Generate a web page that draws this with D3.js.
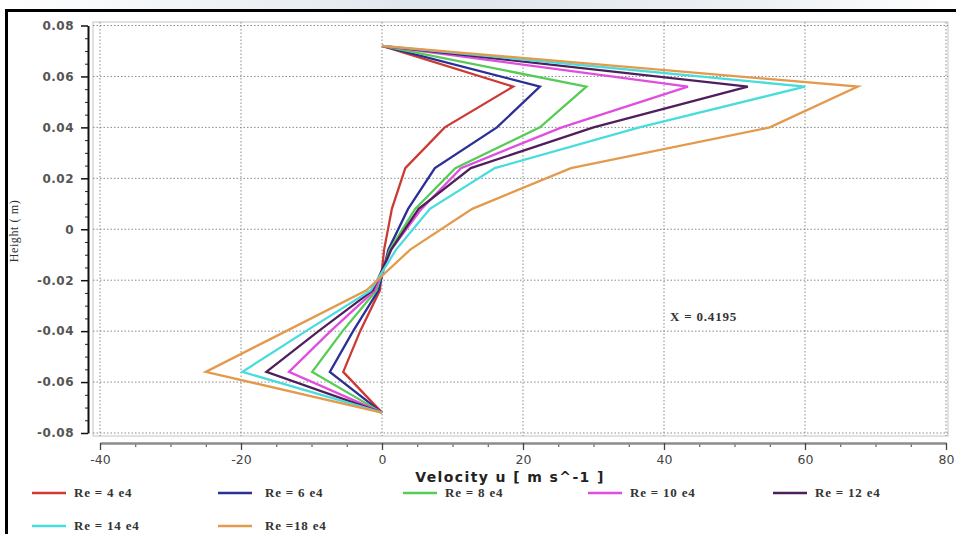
<!DOCTYPE html>
<html>
<head>
<meta charset="utf-8">
<script src="https://cdn.jsdelivr.net/npm/d3@7"></script>
<style>
  html, body { margin: 0; padding: 0; background: #fff; }
  svg { display: block; }
</style>
</head>
<body>
<div id="plot"></div>
<script>
// heights of the profile points (m)
const heights = [0.072, 0.056, 0.04, 0.024, 0.008, -0.008, -0.024, -0.04, -0.056, -0.072];

// velocity u at each height, one array per Reynolds number
const re4 = [0, 18.6, 8.9, 3.3, 1.4, 0.3, -0.3, -3.1, -5.5, 0];
const re6 = [0, 22.4, 16.3, 7.5, 3.7, 0.9, -0.5, -4.1, -7.4, 0];
const re8 = [0, 29.0, 22.4, 10.4, 4.7, 1.1, -0.8, -5.6, -9.9, 0];
const re10 = [0, 43.4, 25.5, 11.2, 5.6, 1.3, -1.0, -7.3, -13.2, 0];
const re12 = [0, 51.9, 30.0, 12.6, 5.2, 1.3, -1.3, -9.0, -16.4, 0];
const re14 = [0, 60.0, 36.5, 16.0, 6.8, 2.0, -1.6, -10.8, -19.8, 0];
const re18 = [0, 67.5, 55.0, 26.8, 12.8, 4.0, -2.2, -13.6, -25.0, 0];

const seriesNames = ['Re = 4 e4', 'Re = 6 e4', 'Re = 8 e4', 'Re = 10 e4', 'Re = 12 e4', 'Re = 14 e4', 'Re =18 e4'];
const seriesColors = ['#cc3a34', '#2b2f96', '#55cc55', '#e04ee0', '#4f1f5c', '#48dcdc', '#e39a4c'];
const seriesValues = [re4, re6, re8, re10, re12, re14, re18];

const xTicks = [-40, -20, 0, 20, 40, 60, 80];
const yTicks = [-0.08, -0.06, -0.04, -0.02, 0, 0.02, 0.04, 0.06, 0.08];

const W = 956, H = 534;

const svg = d3.select('#plot').append('svg')
    .attr('width', W)
    .attr('height', H);

// faint strip above the frame
const grad = svg.append('defs').append('linearGradient').attr('id', 'topg');
grad.append('stop').attr('offset', '0%').attr('stop-color', '#ffffff');
grad.append('stop').attr('offset', '45%').attr('stop-color', '#dfe6ec');
grad.append('stop').attr('offset', '80%').attr('stop-color', '#eef1f4');
grad.append('stop').attr('offset', '100%').attr('stop-color', '#ffffff');
svg.append('rect').attr('x', 0).attr('y', 0).attr('width', W).attr('height', 9).attr('fill', 'url(#topg)');

// black border, top and left only
svg.append('rect').attr('x', 5).attr('y', 9).attr('width', W - 5).attr('height', 3).attr('fill', '#000');
svg.append('rect').attr('x', 5).attr('y', 9).attr('width', 3).attr('height', H - 9).attr('fill', '#000');

const x = d3.scaleLinear().domain([-40, 80]).range([100, 946]);
const y = d3.scaleLinear().domain([-0.08, 0.08]).range([433, 25.5]);

// plot frame
svg.append('rect')
    .attr('x', 93).attr('y', 22)
    .attr('width', 855).attr('height', 414)
    .attr('fill', 'none')
    .attr('stroke', '#c4c4c4');

// dotted grid
svg.append('g').selectAll('line')
    .data(yTicks)
    .enter().append('line')
    .attr('x1', 93).attr('x2', 948)
    .attr('y1', d => y(d)).attr('y2', d => y(d))
    .attr('stroke', '#8a8a8a')
    .attr('stroke-dasharray', '1.5,2');

svg.append('g').selectAll('line')
    .data(xTicks)
    .enter().append('line')
    .attr('x1', d => x(d)).attr('x2', d => x(d))
    .attr('y1', 22).attr('y2', 436)
    .attr('stroke', '#8a8a8a')
    .attr('stroke-dasharray', '1.5,2');

// y axis
const yMinor = d3.range(-0.08, 0.0801, 0.005).filter(v => !yTicks.some(t => Math.abs(t - v) < 1e-6));
const yAxisMinor = svg.append('g')
    .attr('transform', 'translate(88,0)')
    .call(d3.axisLeft(y).tickValues(yMinor).tickSize(3).tickSizeOuter(0).tickFormat(''));
yAxisMinor.select('.domain').remove();
yAxisMinor.selectAll('line').attr('stroke', '#222');

const yAxis = svg.append('g')
    .attr('transform', 'translate(88,0)')
    .call(d3.axisLeft(y).tickValues(yTicks).tickSize(7).tickSizeOuter(0)
        .tickFormat(d => Math.abs(d) < 1e-9 ? '0' : d.toFixed(2)));
yAxis.select('.domain').attr('stroke', '#111').attr('stroke-width', 2);
yAxis.selectAll('line').attr('stroke', '#111').attr('stroke-width', 1.5);
yAxis.selectAll('text')
    .attr('x', -14)
    .attr('fill', '#555')
    .style('font-family', 'DejaVu Sans, sans-serif')
    .style('font-size', '12px')
    .style('font-weight', 'bold')
    .style('letter-spacing', '0.5px');

// x axis, set a little below the plot
const xMinor = d3.range(-40, 80.01, 5).filter(v => v % 20 !== 0);
const xAxisMinor = svg.append('g')
    .attr('transform', 'translate(0,443)')
    .call(d3.axisBottom(x).tickValues(xMinor).tickSize(4).tickSizeOuter(0).tickFormat(''));
xAxisMinor.select('.domain').remove();
xAxisMinor.selectAll('line').attr('stroke', '#444');

const xAxis = svg.append('g')
    .attr('transform', 'translate(0,443)')
    .call(d3.axisBottom(x).tickValues(xTicks).tickSize(7).tickSizeOuter(0).tickFormat(d => String(d)));
xAxis.select('.domain').attr('stroke', '#8c8c8c').attr('stroke-width', 2.5);
xAxis.selectAll('line').attr('stroke', '#444').attr('stroke-width', 1.3);
xAxis.selectAll('text')
    .attr('y', 12)
    .attr('fill', '#444')
    .style('font-family', 'DejaVu Sans, sans-serif')
    .style('font-size', '12.5px');

// axis titles
svg.append('text')
    .attr('x', 510).attr('y', 482)
    .attr('text-anchor', 'middle')
    .attr('fill', '#222')
    .style('font-family', 'DejaVu Sans, sans-serif')
    .style('font-size', '14px')
    .style('font-weight', 'bold')
    .style('letter-spacing', '1.4px')
    .text('Velocity u [ m s^-1 ]');

svg.append('text')
    .attr('transform', 'translate(18,231) rotate(-90)')
    .attr('text-anchor', 'middle')
    .attr('fill', '#333')
    .style('font-family', 'Liberation Serif, serif')
    .style('font-size', '12px')
    .style('letter-spacing', '0.6px')
    .text('Height ( m)');

// profiles
const line = d3.line()
    .x(d => x(d[0]))
    .y(d => y(d[1]));

seriesValues.forEach((vals, i) => {
    const pts = vals.map((u, k) => [u, heights[k]]);
    svg.append('path')
        .datum(pts)
        .attr('d', line)
        .attr('fill', 'none')
        .attr('stroke', seriesColors[i])
        .attr('stroke-width', 2.3)
        .attr('stroke-linejoin', 'miter');
});

// annotation
svg.append('text')
    .attr('x', 670).attr('y', 321)
    .attr('fill', '#333')
    .style('font-family', 'Liberation Serif, serif')
    .style('font-size', '13px')
    .style('font-weight', 'bold')
    .style('letter-spacing', '0.8px')
    .text('X = 0.4195');

// legend, two rows
const legendPos = [
    [32, 493], [218, 493], [403, 493], [588, 493], [773, 493],
    [32, 526], [218, 526]
];
seriesNames.forEach((name, i) => {
    const [lx, ly] = legendPos[i];
    svg.append('line')
        .attr('x1', lx).attr('x2', lx + 34)
        .attr('y1', ly).attr('y2', ly)
        .attr('stroke', seriesColors[i])
        .attr('stroke-width', 2.3);
    svg.append('text')
        .attr('x', lx + (i === 1 || i === 6 ? 47 : 42)).attr('y', ly + 4)
        .attr('fill', '#333')
        .style('font-family', 'Liberation Serif, serif')
        .style('font-size', '13px')
        .style('font-weight', 'bold')
        .style('letter-spacing', '0.8px')
        .text(name);
});
</script>
</body>
</html>
